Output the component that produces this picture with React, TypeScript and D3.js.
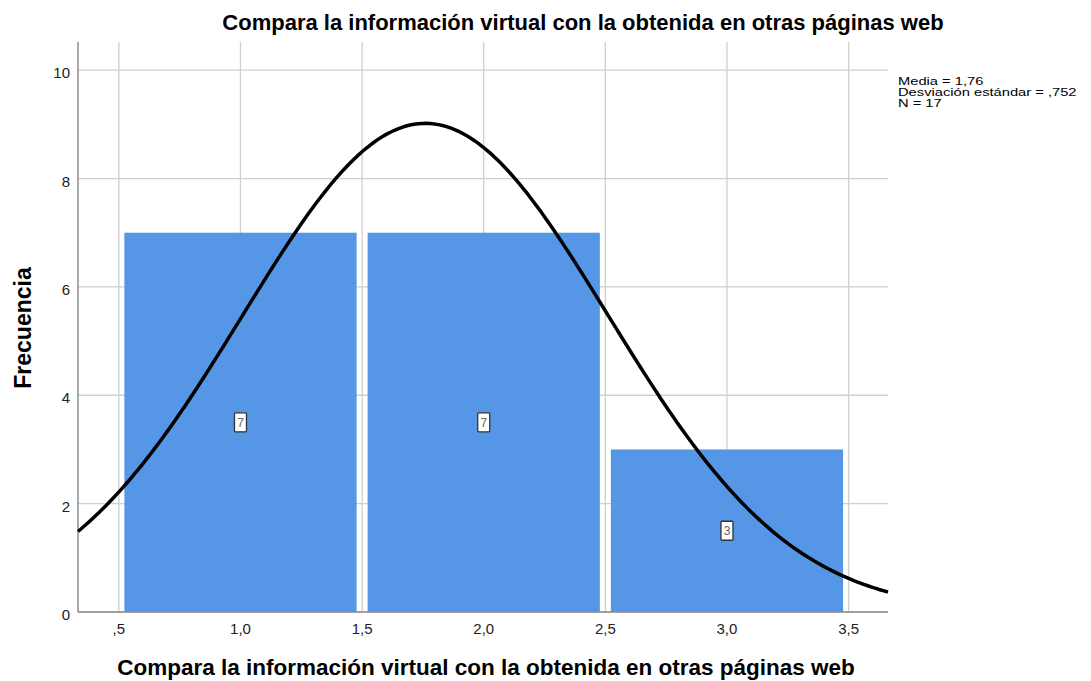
import * as d3 from "d3";
import { useEffect, useRef } from "react";

// histogram bins (center values) and frequencies
const binCenters = [1, 2, 3];
const frequencies = [7, 7, 3];
const xTicks = [0.5, 1, 1.5, 2, 2.5, 3, 3.5];
const xTickLabels = [",5", "1,0", "1,5", "2,0", "2,5", "3,0", "3,5"];
const yTicks = [0, 2, 4, 6, 8, 10];
const stats = ["Media = 1,76", "Desviación estándar = ,752", "N = 17"];
const mean = 1.76;
const sd = 0.752;
const n = 17;

const title = "Compara la información virtual con la obtenida en otras páginas web";
const xLabel = "Compara la información virtual con la obtenida en otras páginas web";
const yLabel = "Frecuencia";

export default function App() {
  const ref = useRef(null);
  const width = 1091;
  const height = 681;
  const margin = { top: 42, right: 203, bottom: 69, left: 78 };

  useEffect(() => {
    draw();
  });

  function draw() {
    const svg = d3.select(ref.current);
    svg.selectAll("*").remove();
    const font = "'Liberation Sans', Arial, sans-serif";

    const x = d3
      .scaleLinear()
      .domain([0.332, 3.662])
      .range([margin.left, width - margin.right]);
    const y = d3
      .scaleLinear()
      .domain([0, 10.52])
      .range([height - margin.bottom, margin.top]);

    svg.append("rect").attr("width", width).attr("height", height).attr("fill", "#fff");

    // grid
    const grid = svg.append("g").attr("stroke", "#cfcfcf").attr("stroke-width", 1.3);
    xTicks.forEach((t) => {
      grid
        .append("line")
        .attr("x1", x(t))
        .attr("x2", x(t))
        .attr("y1", y.range()[1])
        .attr("y2", y.range()[0]);
    });
    yTicks.forEach((t) => {
      grid
        .append("line")
        .attr("x1", x.range()[0])
        .attr("x2", x.range()[1])
        .attr("y1", y(t))
        .attr("y2", y(t));
    });

    // bars
    const inset = 5.5;
    svg
      .append("g")
      .selectAll("rect")
      .data(binCenters)
      .enter()
      .append("rect")
      .attr("x", (d) => x(d - 0.5) + inset)
      .attr("width", (d) => x(d + 0.5) - x(d - 0.5) - 2 * inset)
      .attr("y", (d, i) => y(frequencies[i]))
      .attr("height", (d, i) => y(0) - y(frequencies[i]))
      .attr("fill", "#5596e6");

    // axes lines
    svg
      .append("line")
      .attr("x1", x.range()[0])
      .attr("x2", x.range()[0])
      .attr("y1", y.range()[1])
      .attr("y2", y.range()[0])
      .attr("stroke", "#8c8c8c")
      .attr("stroke-width", 1.5);
    svg
      .append("line")
      .attr("x1", x.range()[0])
      .attr("x2", x.range()[1])
      .attr("y1", y.range()[0])
      .attr("y2", y.range()[0])
      .attr("stroke", "#8c8c8c")
      .attr("stroke-width", 1.5);

    // normal curve
    const pts = d3.range(0, 201).map((i) => {
      const xv = x.domain()[0] + ((x.domain()[1] - x.domain()[0]) * i) / 200;
      const dens = Math.exp(-0.5 * ((xv - mean) / sd) ** 2) / (sd * Math.sqrt(2 * Math.PI));
      return [xv, dens * n] as [number, number];
    });
    svg
      .append("path")
      .datum(pts)
      .attr("fill", "none")
      .attr("stroke", "#000")
      .attr("stroke-width", 3.5)
      .attr(
        "d",
        d3
          .line()
          .x((d) => x(d[0]))
          .y((d) => y(d[1]))
      );

    // bar labels
    const lab = svg.append("g").selectAll("g").data(binCenters).enter().append("g");
    lab
      .append("rect")
      .attr("x", (d) => x(d) - 6)
      .attr("y", (d, i) => y(frequencies[i] / 2) - 9.5)
      .attr("width", 12)
      .attr("height", 19)
      .attr("rx", 1)
      .attr("fill", "#fff")
      .attr("stroke", "#333")
      .attr("stroke-width", 1.3);
    lab
      .append("text")
      .attr("x", (d) => x(d))
      .attr("y", (d, i) => y(frequencies[i] / 2) + 4.5)
      .attr("text-anchor", "middle")
      .attr("font-family", font)
      .attr("font-size", 12)
      .attr("fill", "#666")
      .text((d, i) => frequencies[i]);

    // tick labels
    svg
      .append("g")
      .selectAll("text")
      .data(xTicks)
      .enter()
      .append("text")
      .attr("x", (d) => x(d))
      .attr("y", y(0) + 22)
      .attr("text-anchor", "middle")
      .attr("font-family", font)
      .attr("font-size", 15)
      .attr("fill", "#222")
      .text((d, i) => xTickLabels[i]);
    svg
      .append("g")
      .selectAll("text")
      .data(yTicks)
      .enter()
      .append("text")
      .attr("x", x.range()[0] - 8)
      .attr("y", (d) => y(d) + 8)
      .attr("text-anchor", "end")
      .attr("font-family", font)
      .attr("font-size", 15)
      .attr("fill", "#222")
      .text((d) => d);

    // title and axis labels
    svg
      .append("text")
      .attr("x", 583)
      .attr("y", 30)
      .attr("text-anchor", "middle")
      .attr("font-family", font)
      .attr("font-weight", 700)
      .attr("font-size", 22)
      .attr("fill", "#000")
      .text(title);
    svg
      .append("text")
      .attr("x", 486)
      .attr("y", 675)
      .attr("text-anchor", "middle")
      .attr("font-family", font)
      .attr("font-weight", 700)
      .attr("font-size", 22.5)
      .attr("fill", "#000")
      .text(xLabel);
    svg
      .append("text")
      .attr("transform", "rotate(-90)")
      .attr("x", -328)
      .attr("y", 31)
      .attr("text-anchor", "middle")
      .attr("font-family", font)
      .attr("font-weight", 700)
      .attr("font-size", 23)
      .attr("fill", "#000")
      .text(yLabel);

    // stats (narrow line spacing, glyphs stretched horizontally as in the source)
    svg
      .append("g")
      .selectAll("text")
      .data(stats)
      .enter()
      .append("text")
      .attr("transform", (d, i) => `translate(898,${84.5 + i * 11}) scale(1.28,1)`)
      .attr("font-family", font)
      .attr("font-size", 11.5)
      .attr("fill", "#000")
      .text((d) => d);
  }

  return (
    <div style={{ position: "absolute", left: 0, top: 0 }}>
      <svg width={width} height={height} ref={ref}></svg>
    </div>
  );
}
